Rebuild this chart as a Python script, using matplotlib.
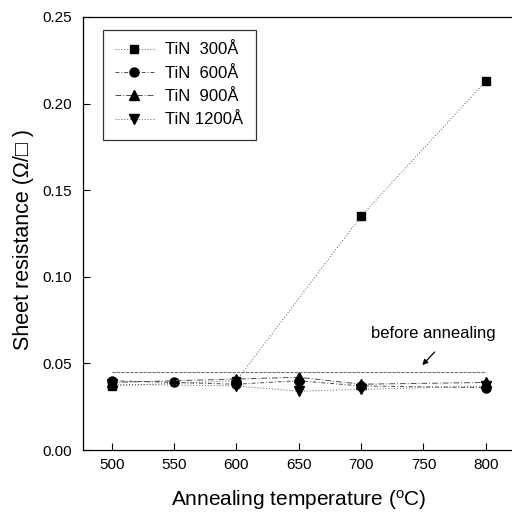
import matplotlib
matplotlib.use("Agg")
import matplotlib.pyplot as plt

plt.rcParams['font.family'] = ['Liberation Sans', 'DejaVu Sans']

temps_300 = [500, 600, 700, 800]
rs_300 = [0.037, 0.040, 0.135, 0.213]
temps_600 = [500, 550, 600, 650, 700, 800]
rs_600 = [0.040, 0.039, 0.038, 0.040, 0.037, 0.036]
temps_900 = [500, 600, 650, 700, 800]
rs_900 = [0.039, 0.041, 0.042, 0.038, 0.039]
temps_1200 = [500, 600, 650, 700, 800]
rs_1200 = [0.038, 0.037, 0.034, 0.035, 0.037]
before_x = [500, 800]
before_y = [0.045, 0.045]
labels = ['TiN  300Å', 'TiN  600Å', 'TiN  900Å', 'TiN 1200Å']
xticks = [500, 550, 600, 650, 700, 750, 800]
yticks = [0.00, 0.05, 0.10, 0.15, 0.20, 0.25]
ytick_labels = ['0.00', '0.05', '0.10', '0.15', '0.20', '0.25']

fig = plt.figure(figsize=(5.12, 5.12), dpi=100)
ax = fig.add_axes([0.162, 0.121, 0.843, 0.846])

ax.plot(temps_300, rs_300, color='0.35', lw=0.7, ls=(0, (1, 2)), marker='s', ms=6,
        mfc='black', mec='black', label=labels[0])
ax.plot(temps_600, rs_600, color='0.3', lw=0.7, ls=(0, (4, 2, 1, 2)), marker='o', ms=6.5,
        mfc='black', mec='black', label=labels[1])
ax.plot(temps_900, rs_900, color='0.3', lw=0.7, ls=(0, (6, 2, 1, 2)), marker='^', ms=6.5,
        mfc='black', mec='black', label=labels[2])
ax.plot(temps_1200, rs_1200, color='0.35', lw=0.7, ls=(0, (1, 2)), marker='v', ms=6.5,
        mfc='black', mec='black', label=labels[3])
ax.plot(before_x, before_y, color='0.45', lw=0.8, ls=(0, (3, 1)))

ax.text(758, 0.0675, 'before annealing', ha='center', va='center', fontsize=12)
ax.annotate('', xy=(749, 0.049), xytext=(759, 0.0566),
            arrowprops=dict(arrowstyle='-|>', color='black', lw=0.9,
                            shrinkA=0, shrinkB=0, mutation_scale=8))

ax.set_xlim(477, 823)
ax.set_ylim(0, 0.25)
ax.set_xticks(xticks)
ax.set_yticks(yticks)
ax.set_yticklabels(ytick_labels)
ax.tick_params(direction='in', labelsize=11, length=5, width=0.8)
ax.tick_params(axis='x', pad=6)
ax.tick_params(axis='y', pad=8)
ax.spines['right'].set_visible(False)
for s in ['left', 'bottom', 'top']:
    ax.spines[s].set_linewidth(0.9)

ax.set_xlabel('Annealing temperature ($\\mathregular{^{o}}$C)', fontsize=15, labelpad=11)
ax.set_ylabel('Sheet resistance (Ω/□ )', fontsize=15.5, labelpad=6, y=0.485)

leg = ax.legend(loc='upper left', bbox_to_anchor=(0.046, 0.970), fontsize=12,
                frameon=True, fancybox=False, edgecolor='black', handlelength=2.3,
                handletextpad=0.7, labelspacing=0.5, borderpad=0.75, borderaxespad=0)
leg.get_frame().set_linewidth(0.9)

fig.savefig('out.png', dpi=100)
